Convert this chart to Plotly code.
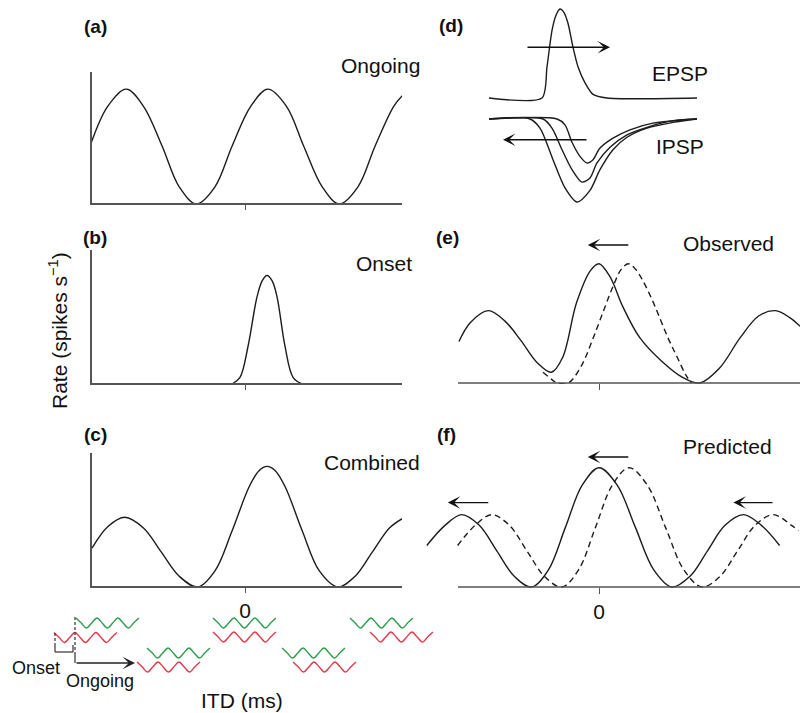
import plotly.graph_objects as go

# ---------------- data ----------------
# (a) ongoing response, ITD in ms, normalised rate
ITD_A = [-1.08, -0.96, -0.83, -0.71, -0.58, -0.46, -0.34, -0.21, -0.09, 0.04, 0.16,
         0.29, 0.41, 0.54, 0.66, 0.79, 0.91, 1.04, 1.10]
RATE_A = [0.45, 0.74, 0.87, 0.74, 0.44, 0.13, 0.0, 0.13, 0.44, 0.74, 0.87,
          0.74, 0.44, 0.13, 0.0, 0.13, 0.44, 0.74, 0.82]
# (b) onset response
ITD_B = [-0.09, -0.035, 0.021, 0.084, 0.12, 0.154, 0.19, 0.224, 0.28, 0.336, 0.40]
RATE_B = [0.0, 0.05, 0.28, 0.65, 0.77, 0.81, 0.77, 0.65, 0.28, 0.05, 0.0]
# (c) combined response
ITD_C = [-1.07, -0.96, -0.84, -0.71, -0.585, -0.46, -0.33, -0.21, -0.09, 0.03, 0.10,
         0.154, 0.21, 0.28, 0.40, 0.52, 0.65, 0.77, 0.89, 1.01, 1.10]
RATE_C = [0.29, 0.45, 0.52, 0.44, 0.26, 0.08, 0.0, 0.12, 0.42, 0.75, 0.87,
          0.90, 0.87, 0.75, 0.42, 0.12, 0.0, 0.08, 0.26, 0.44, 0.51]
# (d) EPSP / IPSP time courses (arbitrary time units, normalised amplitude)
T_EPSP = [0.45, 3.1, 3.35, 3.6, 3.8, 4.0, 4.2, 4.4, 4.65, 4.9, 5.25, 5.65, 6.35, 10.85]
V_EPSP = [0.0, 0.0, 0.35, 0.76, 0.93, 1.0, 0.96, 0.84, 0.57, 0.35, 0.17, 0.04, 0.0, 0.0]
T_IPSP1 = [0.45, 2.5, 3.0, 3.65, 4.25, 4.85, 5.5, 6.0, 6.65, 7.35, 8.35, 9.65, 10.85]
V_IPSP1 = [0.0, 0.0, -0.11, -0.49, -0.83, -1.0, -0.86, -0.61, -0.37, -0.22, -0.11, -0.04, 0.0]
T_IPSP2 = [0.45, 3.15, 3.6, 4.1, 4.6, 5.1, 5.5, 5.85, 6.5, 7.35, 8.35, 9.65, 10.85]
V_IPSP2 = [0.0, 0.0, -0.11, -0.37, -0.61, -0.76, -0.71, -0.53, -0.34, -0.19, -0.10, -0.02, 0.0]
T_IPSP3 = [0.45, 3.85, 4.25, 4.6, 5.0, 5.35, 5.65, 6.0, 6.65, 7.5, 8.65, 10.85]
V_IPSP3 = [0.0, 0.0, -0.07, -0.28, -0.45, -0.53, -0.49, -0.35, -0.23, -0.13, -0.05, 0.0]
# (e) observed: solid (with inhibition) and dashed (without)
ITD_E = [-1.00, -0.92, -0.79, -0.67, -0.56, -0.44, -0.34, -0.26, -0.16, -0.06, 0.0,
         0.08, 0.17, 0.29, 0.44, 0.60, 0.72, 0.86, 1.01, 1.14, 1.26, 1.36, 1.44]
RATE_E = [0.31, 0.45, 0.54, 0.46, 0.32, 0.15, 0.08, 0.19, 0.60, 0.84, 0.89,
          0.79, 0.57, 0.34, 0.17, 0.04, 0.0, 0.11, 0.34, 0.50, 0.54, 0.49, 0.42]
ITD_E_D = [-0.40, -0.33, -0.30, -0.22, -0.13, -0.04, 0.04, 0.10, 0.16, 0.21, 0.26,
           0.31, 0.38, 0.44, 0.50, 0.56, 0.62, 0.66]
RATE_E_D = [0.08, 0.02, 0.0, 0.0, 0.12, 0.34, 0.56, 0.72, 0.85, 0.89, 0.85,
            0.77, 0.62, 0.47, 0.32, 0.19, 0.06, 0.0]
# (f) predicted: solid and dashed
ITD_F = [-1.23, -1.10, -0.98, -0.855, -0.73, -0.605, -0.48, -0.36, -0.24, -0.12, 0.0,
         0.13, 0.26, 0.39, 0.52, 0.65, 0.775, 0.90, 1.03, 1.16, 1.29]
RATE_F = [0.31, 0.46, 0.54, 0.46, 0.27, 0.08, 0.0, 0.13, 0.445, 0.76, 0.89,
          0.76, 0.445, 0.13, 0.0, 0.08, 0.27, 0.46, 0.54, 0.46, 0.31]
ITD_F_D = [-1.01, -0.885, -0.765, -0.64, -0.515, -0.39, -0.265, -0.145, -0.025, 0.095, 0.215,
           0.345, 0.475, 0.605, 0.735, 0.865, 0.99, 1.115, 1.245, 1.375, 1.425]
RATE_F_D = [0.31, 0.46, 0.54, 0.46, 0.27, 0.08, 0.0, 0.13, 0.445, 0.76, 0.89,
            0.76, 0.445, 0.13, 0.0, 0.08, 0.27, 0.46, 0.54, 0.46, 0.42]
# stimulus snippets (ear waveforms) under the left column
WAVE_DX = [0, 0.037, 0.073, 0.11, 0.147, 0.183, 0.22, 0.257, 0.293, 0.33, 0.367, 0.403, 0.44]
WAVE_DY = [0.5, 0, -0.5, 0, 0.5, 0, -0.5, 0, 0.5, 0, -0.5, 0, 0.5]
GREEN_START = [-1.182, -0.685, -0.224, 0.259, 0.734]
GREEN_ROW = [5.2, 2.2, 5.2, 2.2, 5.2]
RED_START = [-1.336, -0.755, -0.224, 0.336, 0.874]
RED_ROW = [3.75, 0.8, 3.8, 0.8, 3.8]

TICKS = [0]
TICK_TEXT = ["0"]

# ---------------- helpers for layout ----------------
W, H = 800, 713
FONT = "Liberation Sans, Arial, Helvetica, sans-serif"
CURVE = "#1c1c1c"
AXC = "#555555"


def fx(px):
    return px / W


def fy(py):
    return 1 - py / H


def lin(p0, v0, p1, v1):
    k = (v1 - v0) / (p1 - p0)
    return lambda p: v0 + (p - p0) * k


LX = lin(245, 0, 388, 1)   # left column ITD scale
RX = lin(599, 0, 739, 1)   # right column ITD scale

fig = go.Figure()


def line(x, y, ax, dash=None, color=CURVE, width=1.4, smoothing=1.0):
    fig.add_trace(go.Scatter(
        x=x, y=y, mode="lines", xaxis="x" + ax, yaxis="y" + ax,
        line=dict(color=color, width=width, shape="spline", smoothing=smoothing, dash=dash),
        hoverinfo="skip", showlegend=False))


line(ITD_A, RATE_A, "")
line(ITD_B, RATE_B, "2")
line(ITD_C, RATE_C, "3")
line(T_EPSP, V_EPSP, "4", smoothing=0.7)
line(T_IPSP1, V_IPSP1, "5", smoothing=0.8)
line(T_IPSP2, V_IPSP2, "5", smoothing=0.8)
line(T_IPSP3, V_IPSP3, "5", smoothing=0.8)
line(ITD_E, RATE_E, "6")
line(ITD_E_D, RATE_E_D, "6", dash="6px,4px")
line(ITD_F, RATE_F, "7")
line(ITD_F_D, RATE_F_D, "7", dash="6px,4px")
for s, r in zip(GREEN_START, GREEN_ROW):
    line([s + d for d in WAVE_DX], [r + d for d in WAVE_DY], "8", color="#2e9e4c", width=1.4)
for s, r in zip(RED_START, RED_ROW):
    line([s + d for d in WAVE_DX], [r + d for d in WAVE_DY], "8", color="#e23b4b", width=1.4)

layout = dict(width=W, height=H, margin=dict(l=0, r=0, t=0, b=0),
              paper_bgcolor="white", plot_bgcolor="rgba(0,0,0,0)",
              font=dict(family=FONT, color="#111"), showlegend=False)


def left_panel(suffix, axis_px, top_px, labels):
    Y = lin(axis_px, 0, top_px, 1)
    layout["xaxis" + suffix] = dict(
        domain=[fx(91), fx(402)], range=[LX(91), LX(402)], anchor="free",
        position=fy(axis_px), showline=True, linecolor=AXC, linewidth=1.6,
        ticks="outside", tickvals=TICKS, ticktext=TICK_TEXT, ticklen=5, tickwidth=1.4,
        tickcolor=AXC, showticklabels=labels, tickfont=dict(size=21, color="#111"),
        showgrid=False, zeroline=False, fixedrange=True)
    layout["yaxis" + suffix] = dict(
        domain=[fy(axis_px + 1), fy(top_px)], range=[Y(axis_px + 1), Y(top_px)],
        anchor="free", position=fx(91), showline=True, linecolor=AXC, linewidth=1.6,
        ticks="", showticklabels=False, showgrid=False, zeroline=False, fixedrange=True)


left_panel("", 204, 72, False)
left_panel("2", 384, 250, False)
left_panel("3", 587, 453, True)


def right_panel(suffix, axis_px, top_px, labels):
    Y = lin(axis_px, 0, axis_px - 134, 1)
    layout["xaxis" + suffix] = dict(
        domain=[fx(420), fx(800)], range=[RX(420), RX(800)], anchor="free",
        position=fy(axis_px), showline=False, ticks="outside", tickvals=TICKS,
        ticktext=TICK_TEXT, ticklen=6, tickwidth=1.4, tickcolor=AXC,
        showticklabels=labels, tickfont=dict(size=21, color="#111"),
        showgrid=False, zeroline=False, fixedrange=True)
    layout["yaxis" + suffix] = dict(
        domain=[fy(axis_px + 1), fy(top_px)], range=[Y(axis_px + 1), Y(top_px)],
        visible=False, fixedrange=True)


right_panel("6", 383, 240, False)
right_panel("7", 587, 440, True)

# (d) panel axes
TD = lin(480, 0, 500, 1)
layout["xaxis4"] = dict(domain=[fx(480), fx(700)], range=[TD(480), TD(700)], anchor="y4",
                        visible=False, fixedrange=True)
layout["xaxis5"] = dict(domain=[fx(480), fx(700)], range=[TD(480), TD(700)], anchor="y5",
                        visible=False, fixedrange=True)
VE = lin(98, 0, 9, 1)
VI = lin(119, 0, 202, -1)
layout["yaxis4"] = dict(domain=[fy(104), fy(3)], range=[VE(104), VE(3)], anchor="x4",
                        visible=False, fixedrange=True)
layout["yaxis5"] = dict(domain=[fy(208), fy(113)], range=[VI(208), VI(113)], anchor="x5",
                        visible=False, fixedrange=True)
# waveform snippet axes
WV = lin(675, 0, 665, 1)
layout["xaxis8"] = dict(domain=[0, fx(440)], range=[LX(0), LX(440)], anchor="y8",
                        visible=False, fixedrange=True)
layout["yaxis8"] = dict(domain=[fy(675), fy(610)], range=[WV(675), WV(610)], anchor="x8",
                        visible=False, fixedrange=True)

# baselines of (e) and (f)
shapes = []
for ax in ("6", "7"):
    shapes.append(dict(type="line", xref="x" + ax, yref="y" + ax, x0=RX(458), x1=RX(800),
                       y0=0, y1=0, line=dict(color=AXC, width=1.6)))

# onset / ongoing bracket decoration
DEC = "#333333"
shapes += [
    dict(type="line", xref="paper", yref="paper", x0=fx(55), x1=fx(55), y0=fy(633), y1=fy(646),
         line=dict(color=DEC, width=1.2, dash="3px,2px")),
    dict(type="line", xref="paper", yref="paper", x0=fx(55), x1=fx(55), y0=fy(646), y1=fy(652),
         line=dict(color=DEC, width=1.2)),
    dict(type="line", xref="paper", yref="paper", x0=fx(55), x1=fx(73), y0=fy(652), y1=fy(652),
         line=dict(color=DEC, width=1.2)),
    dict(type="line", xref="paper", yref="paper", x0=fx(73), x1=fx(73), y0=fy(652), y1=fy(645),
         line=dict(color=DEC, width=1.2)),
    dict(type="line", xref="paper", yref="paper", x0=fx(75), x1=fx(75), y0=fy(617), y1=fy(652),
         line=dict(color=DEC, width=1.2, dash="3px,2px")),
    dict(type="line", xref="paper", yref="paper", x0=fx(75), x1=fx(75), y0=fy(652), y1=fy(663),
         line=dict(color=DEC, width=1.2)),
]
layout["shapes"] = shapes

ann = []


def text(s, px, py, size=21, bold=False, angle=0):
    ann.append(dict(text=("<b>%s</b>" % s) if bold else s, x=fx(px), y=fy(py),
                    xref="paper", yref="paper", showarrow=False, xanchor="center",
                    yanchor="middle", textangle=angle,
                    font=dict(size=size, family=FONT, color="#111")))


def arrow(ax, x_head, x_tail, y):
    ann.append(dict(text="", x=x_head, y=y, ax=x_tail, ay=y, xref="x" + ax, yref="y" + ax,
                    axref="x" + ax, ayref="y" + ax, showarrow=True, arrowhead=3,
                    arrowsize=1.6, arrowwidth=1.3, arrowcolor="#111", standoff=0))


for s, px, py in [("(a)", 95, 27), ("(b)", 95, 237), ("(c)", 95, 435),
                  ("(d)", 451, 25), ("(e)", 447, 237), ("(f)", 446, 435)]:
    text(s, px, py, size=19, bold=True)
text("Ongoing", 380, 65)
text("Onset", 384, 263)
text("Combined", 372, 462)
text("EPSP", 680, 73)
text("IPSP", 680, 146)
text("Observed", 728, 243)
text("Predicted", 727, 446)
text("Rate (spikes s<sup>−1</sup>)", 58, 330, size=21, angle=-90)
text("ITD (ms)", 242, 700, size=21)
text("Onset", 36, 668, size=18)
text("Ongoing", 100, 681, size=18)

arrow("4", 6.5, 2.3, 0.57)
arrow("5", 1.15, 5.4, -0.25)
arrow("6", -0.08, 0.22, 1.03)
arrow("7", -0.08, 0.22, 0.97)
arrow("7", -1.08, -0.78, 0.63)
arrow("7", 0.96, 1.25, 0.63)
ann.append(dict(text="", x=fx(135), y=fy(663), xref="paper", yref="paper", ax=-60, ay=0,
                axref="pixel", ayref="pixel", showarrow=True, arrowhead=3, arrowsize=1.6,
                arrowwidth=1.3, arrowcolor="#222", standoff=0))
layout["annotations"] = ann

fig.update_layout(**layout)
fig.write_html("out.html")
